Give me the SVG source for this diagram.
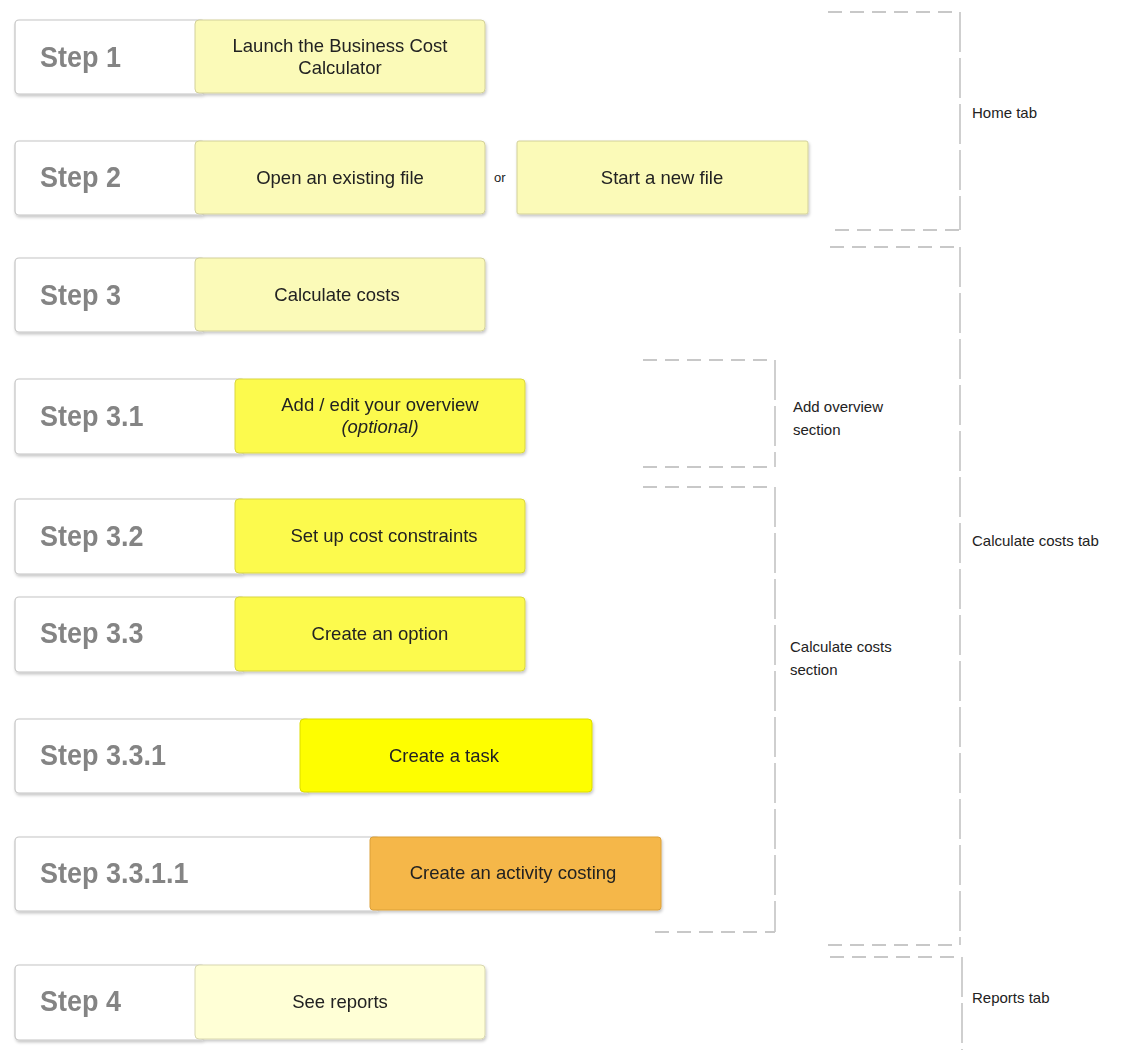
<svg xmlns="http://www.w3.org/2000/svg" width="1138" height="1050" viewBox="0 0 1138 1050">
<defs>
<filter id="sh" x="-5%" y="-10%" width="110%" height="130%">
<feDropShadow dx="1" dy="2" stdDeviation="1.5" flood-color="#000" flood-opacity="0.22"/>
</filter>
</defs>
<style>
.w{fill:#fff;stroke:#c4c4c4;stroke-width:1.2}
.ly{fill:#fbfab8;stroke:#d2d09a;stroke-width:1}
.vl{fill:#ffffd6;stroke:#d8d7b0;stroke-width:1}
.my{fill:#fcfa4e;stroke:#d9d640;stroke-width:1}
.by{fill:#fefe05;stroke:#dcdc00;stroke-width:1}
.or{fill:#f5b748;stroke:#dba03a;stroke-width:1}
.st{font-family:"Liberation Sans",Arial,sans-serif;font-size:29px;font-weight:bold;fill:#848484}
.tx{font-family:"Liberation Sans",Arial,sans-serif;font-size:18.5px;fill:#222;text-anchor:middle}
.lb{font-family:"Liberation Sans",Arial,sans-serif;font-size:15px;fill:#222}
.dh{fill:none;stroke:#c8c8c8;stroke-width:2;stroke-dasharray:14 8}
.dv{fill:none;stroke:#cfcfcf;stroke-width:2;stroke-dasharray:40 6}
</style>
<rect width="1138" height="1050" fill="#fff"/>

<g id="step1" filter="url(#sh)">
<rect class="w" x="15" y="20" width="190" height="74" rx="4"/>
<rect class="ly" x="195" y="20" width="290" height="73" rx="4"/>
<text class="st" transform="translate(40 67) scale(0.93 1)">Step 1</text>
<text class="tx" x="340" y="52">Launch the Business Cost</text>
<text class="tx" x="340" y="74">Calculator</text>
</g>

<g id="step2" filter="url(#sh)">
<rect class="w" x="15" y="141" width="190" height="74" rx="4"/>
<rect class="ly" x="195" y="141" width="290" height="73" rx="4"/>
<text class="st" transform="translate(40 187) scale(0.93 1)">Step 2</text>
<text class="tx" x="340" y="184">Open an existing file</text>
</g>

<g id="or-label">
<text class="lb" x="494" y="182" style="font-size:13px">or</text>
</g>

<g id="step2b" filter="url(#sh)">
<rect class="ly" x="517" y="141" width="291" height="73" rx="2"/>
<text class="tx" x="662" y="184">Start a new file</text>
</g>

<g id="step3" filter="url(#sh)">
<rect class="w" x="15" y="258" width="190" height="74" rx="4"/>
<rect class="ly" x="195" y="258" width="290" height="73" rx="4"/>
<text class="st" transform="translate(40 305) scale(0.93 1)">Step 3</text>
<text class="tx" x="337" y="301">Calculate costs</text>
</g>

<g id="step3-1" filter="url(#sh)">
<rect class="w" x="15" y="379" width="230" height="75" rx="4"/>
<rect class="my" x="235" y="379" width="290" height="74" rx="4"/>
<text class="st" transform="translate(40 426) scale(0.93 1)">Step 3.1</text>
<text class="tx" x="380" y="411">Add / edit your overview</text>
<text class="tx" x="380" y="433" font-style="italic">(optional)</text>
</g>

<g id="step3-2" filter="url(#sh)">
<rect class="w" x="15" y="499" width="230" height="75" rx="4"/>
<rect class="my" x="235" y="499" width="290" height="74" rx="4"/>
<text class="st" transform="translate(40 546) scale(0.93 1)">Step 3.2</text>
<text class="tx" x="384" y="542">Set up cost constraints</text>
</g>

<g id="step3-3" filter="url(#sh)">
<rect class="w" x="15" y="597" width="230" height="75" rx="4"/>
<rect class="my" x="235" y="597" width="290" height="74" rx="4"/>
<text class="st" transform="translate(40 643) scale(0.93 1)">Step 3.3</text>
<text class="tx" x="380" y="640">Create an option</text>
</g>

<g id="step3-3-1" filter="url(#sh)">
<rect class="w" x="15" y="719" width="295" height="74" rx="4"/>
<rect class="by" x="300" y="719" width="292" height="73" rx="4"/>
<text class="st" transform="translate(40 765) scale(0.93 1)">Step 3.3.1</text>
<text class="tx" x="444" y="762">Create a task</text>
</g>

<g id="step3-3-1-1" filter="url(#sh)">
<rect class="w" x="15" y="837" width="365" height="74" rx="4"/>
<rect class="or" x="370" y="837" width="291" height="73" rx="3"/>
<text class="st" transform="translate(40 883) scale(0.93 1)">Step 3.3.1.1</text>
<text class="tx" x="513" y="879">Create an activity costing</text>
</g>

<g id="step4" filter="url(#sh)">
<rect class="w" x="15" y="965" width="190" height="75" rx="4"/>
<rect class="vl" x="195" y="965" width="290" height="74" rx="4"/>
<text class="st" transform="translate(40 1011) scale(0.93 1)">Step 4</text>
<text class="tx" x="340" y="1008">See reports</text>
</g>

<g id="brackets">
<path class="dh" d="M828 12H960"/>
<path class="dv" d="M960 12V230"/>
<path class="dh" d="M835 230H960"/>
<path class="dh" d="M830 247H960"/>
<path class="dv" d="M960 247V945"/>
<path class="dh" d="M828 945H960"/>
<path class="dh" d="M830 957H962"/>
<path class="dv" d="M962 957V1050"/>
<path class="dh" d="M643 360H775"/>
<path class="dv" d="M775 360V467"/>
<path class="dh" d="M643 467H775"/>
<path class="dh" d="M643 487H775"/>
<path class="dv" d="M775 487V932"/>
<path class="dh" d="M655 932H775"/>
</g>

<g id="labels">
<text class="lb" x="972" y="118">Home tab</text>
<text class="lb" x="972" y="546">Calculate costs tab</text>
<text class="lb" x="972" y="1003">Reports tab</text>
<text class="lb" x="793" y="412">Add overview</text>
<text class="lb" x="793" y="435">section</text>
<text class="lb" x="790" y="652">Calculate costs</text>
<text class="lb" x="790" y="675">section</text>
</g>
</svg>
